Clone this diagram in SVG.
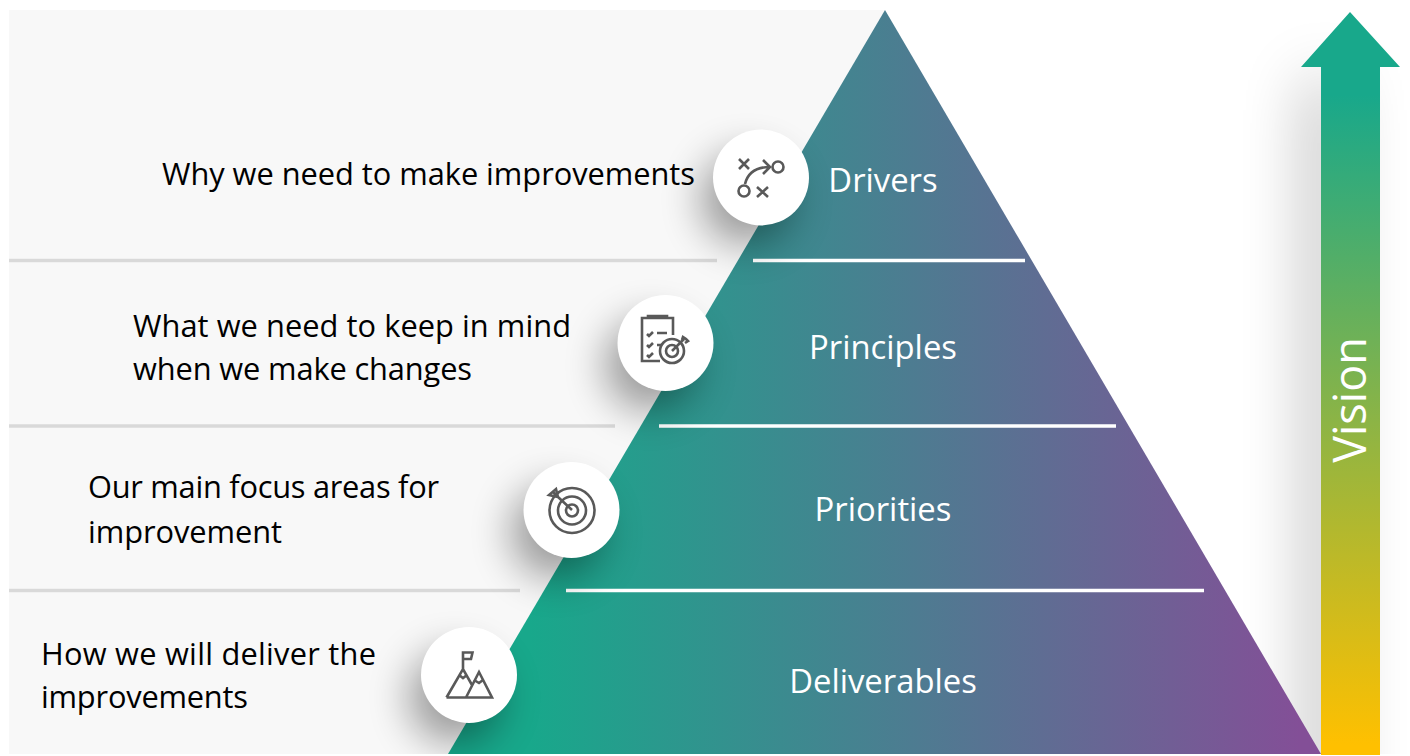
<svg xmlns="http://www.w3.org/2000/svg" width="1410" height="756" viewBox="0 0 1410 756">
<style>
.lbl{font-family:"Open Sans","Noto Sans","Liberation Sans",sans-serif;font-size:30.800px;fill:#000}
.in{font-family:"Open Sans","Noto Sans","Liberation Sans",sans-serif;font-size:32.800px;fill:#fff;text-anchor:middle}
.sep{stroke:#d9d9d9;stroke-width:3.500;fill:none}
.wsep{stroke:#fff;stroke-width:3.500;fill:none}
.ic{fill:none;stroke:#595959;stroke-width:2.600}
.disc{fill:#fff}
.dsh{fill:#000;opacity:.38;filter:url(#ds)}
</style>
<defs>
<linearGradient id="tri" gradientUnits="userSpaceOnUse" x1="530" y1="0" x2="1300" y2="0">
<stop offset="0" stop-color="#18a88b"/><stop offset="1" stop-color="#834f97"/>
</linearGradient>
<linearGradient id="arr" gradientUnits="userSpaceOnUse" x1="0" y1="95" x2="0" y2="745">
<stop offset="0" stop-color="#18a88b"/><stop offset="1" stop-color="#ffc000"/>
</linearGradient>
<filter id="sh" filterUnits="userSpaceOnUse" x="1150" y="0" width="260" height="756"><feGaussianBlur stdDeviation="32"/></filter>
<filter id="ds" x="-100%" y="-100%" width="300%" height="300%"><feGaussianBlur stdDeviation="20"/></filter>
<clipPath id="page"><rect x="9" y="10" width="1401" height="744"/></clipPath>
</defs>
<rect width="1410" height="756" fill="#fff"/>
<path d="M9 10H885L448 754H9Z" fill="#f8f8f8"/>
<g clip-path="url(#page)">
<rect x="1310" y="80" width="30" height="760" fill="#000" opacity=".34" filter="url(#sh)"/>
</g>
<g id="pyramid"><path d="M885 10L1321 754H448Z" fill="url(#tri)"/></g>
<g id="connectors">
<path class="sep" d="M9 260.500H717M9 426H615M9 590.500H520"/>
<path class="wsep" d="M753 260.500H1025M659 426H1116M566 590.500H1204"/>
</g>
<g id="arrow">
<path d="M1350 12L1400 67H1380V755H1321V67H1301Z" fill="url(#arr)"/>
<text transform="translate(1366 400) rotate(-90)" font-family="Open Sans,Noto Sans,Liberation Sans,sans-serif" font-size="45" fill="#fff" text-anchor="middle">Vision</text>
</g>
<g clip-path="url(#page)">
<circle class="dsh" cx="747" cy="199" r="46"/>
<circle class="dsh" cx="651" cy="365" r="46"/>
<circle class="dsh" cx="557" cy="532" r="46"/>
<circle class="dsh" cx="455" cy="697" r="46"/>
</g>
<g id="node-drivers">
<text class="lbl" x="162" y="185" textLength="533">Why we need to make improvements</text>
<circle class="disc" cx="761" cy="177.500" r="48"/>
<path class="ic" d="M739 159l10 10m0-10l-10 10M757 187l11 10m0-10l-11 10"/>
<circle class="ic" cx="778" cy="167" r="5.500"/><circle class="ic" cx="744" cy="191" r="5.500"/>
<path class="ic" d="M745 184C748 172 756 167 770 167M763 160l7 7l-7 7"/>
<text class="in" x="883" y="192">Drivers</text>
</g>
<g id="node-principles">
<text class="lbl" x="133" y="337" textLength="438">What we need to keep in mind</text>
<text class="lbl" x="133" y="380" textLength="339">when we make changes</text>
<circle class="disc" cx="665.500" cy="343" r="48"/>
<path class="ic" d="M660 361H642V318H673V335M648 318v-2h19v2"/>
<path class="ic" d="M647 334l2 2l4-4M657 333h10M647 345l2 2l4-4M657 345h5M647 355l2 2l4-4"/>
<circle class="ic" cx="672" cy="351" r="12"/><circle class="ic" cx="672" cy="351" r="6"/>
<path class="ic" d="M672 351L684 339M682 340l1-3l3 2l2 2l-3 2"/>
<text class="in" x="883" y="359">Principles</text>
</g>
<g id="node-priorities">
<text class="lbl" x="88" y="498" textLength="351">Our main focus areas for</text>
<text class="lbl" x="88" y="543" textLength="194">improvement</text>
<circle class="disc" cx="571.500" cy="510" r="48"/>
<circle class="ic" cx="572" cy="510.500" r="22.500"/><circle class="ic" cx="572" cy="510.500" r="14"/><circle class="ic" cx="572" cy="510.500" r="6"/>
<path class="ic" d="M572 510L558 497M558 497l-2-8l-7 6l9 2M553 492l3 3"/>
<text class="in" x="883" y="521">Priorities</text>
</g>
<g id="node-deliverables">
<text class="lbl" x="41" y="665" textLength="335">How we will deliver the</text>
<text class="lbl" x="41" y="708" textLength="207">improvements</text>
<circle class="disc" cx="469" cy="675" r="48"/>
<path class="ic" d="M446.500 697.500H492L479 672L466 697.500M446.500 697.500L463 669L472 685M463 669V652.500H472.500L471 659H463"/>
<path class="ic" d="M459 675l4 3l4-3M474 680l5 3l4-3" stroke-width="2"/>
<text class="in" x="883" y="693">Deliverables</text>
</g>
</svg>
